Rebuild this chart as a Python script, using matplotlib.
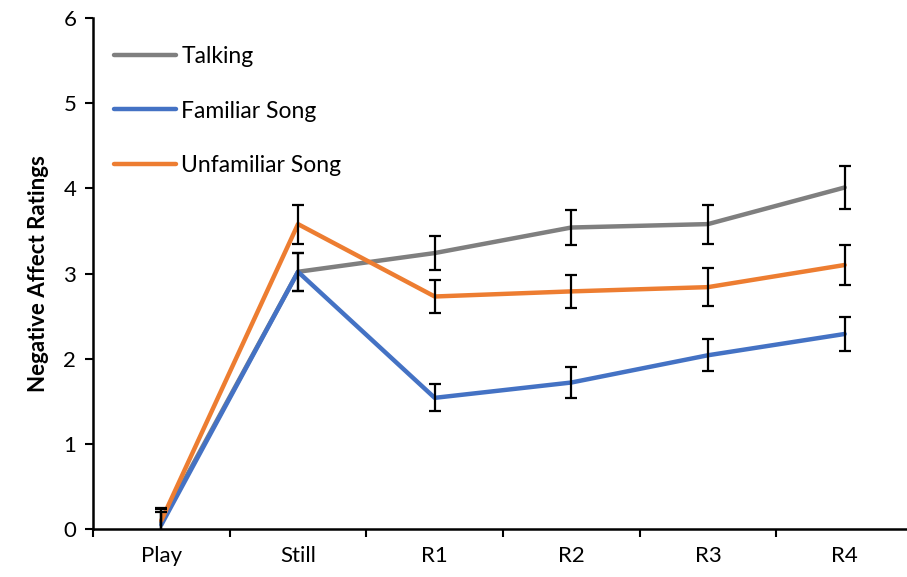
import matplotlib.pyplot as plt
import numpy as np

plt.rcParams['font.family'] = ['Lato', 'DejaVu Sans']

# Condições e médias por fase
fases = ['Play', 'Still', 'R1', 'R2', 'R3', 'R4']
talking = [0.08, 3.02, 3.24, 3.54, 3.58, 4.01]
talking_err = [0.15, 0.22, 0.20, 0.21, 0.23, 0.25]
familiar = [0.05, 3.02, 1.54, 1.72, 2.04, 2.29]
familiar_err = [0.15, 0.22, 0.16, 0.18, 0.19, 0.20]
unfamiliar = [0.10, 3.58, 2.73, 2.79, 2.84, 3.10]
unfamiliar_err = [0.15, 0.23, 0.19, 0.19, 0.22, 0.23]

series = [
    ('Talking', talking, talking_err, '#7f7f7f'),
    ('Familiar Song', familiar, familiar_err, '#4472c4'),
    ('Unfamiliar Song', unfamiliar, unfamiliar_err, '#ed7d31'),
]

fig = plt.figure(figsize=(9.07, 5.77), dpi=100)
ax = fig.add_axes([93 / 907, 48 / 577, 820 / 907, 511 / 577])

x = np.arange(len(fases))
for nome, valores, erros, cor in series:
    ax.plot(x, valores, color=cor, linewidth=3.2, label=nome, solid_capstyle='round', zorder=2)
for nome, valores, erros, cor in series:
    ax.errorbar(x, valores, yerr=erros, fmt='none', ecolor='black',
                elinewidth=1.6, capsize=4, capthick=1.6, zorder=3)

ax.set_xlim(-0.5, 5.5)
ax.set_ylim(0, 6)
ax.set_yticks(range(7))
ax.set_xticks(x)
ax.set_xticklabels(fases)
ax.set_xticks(np.arange(-0.5, 6, 1), minor=True)
ax.tick_params(axis='x', which='major', length=0, pad=12, labelsize=16)
ax.tick_params(axis='x', which='minor', direction='out', length=6, width=1.5)
ax.tick_params(axis='y', direction='out', length=6, width=1.5, labelsize=16, pad=6)

for lado in ['top', 'right']:
    ax.spines[lado].set_visible(False)
for lado in ['left', 'bottom']:
    ax.spines[lado].set_linewidth(1.8)

ax.set_ylabel('Negative Affect Ratings', fontsize=16, fontweight='bold', labelpad=10)

ax.legend(loc='upper left', bbox_to_anchor=(0.0, 0.985), frameon=False, fontsize=16.5,
          handlelength=2.7, handletextpad=0.25, labelspacing=1.45)

plt.savefig('out.png', dpi=100)
